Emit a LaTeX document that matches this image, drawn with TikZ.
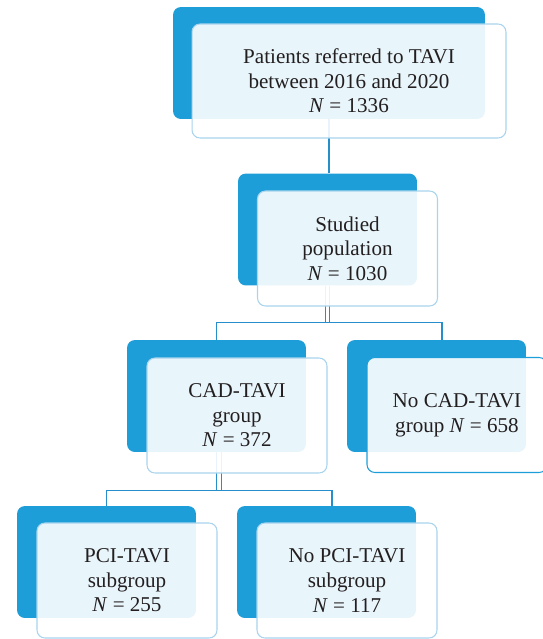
\documentclass[tikz,border=0pt]{standalone}
\usepackage{fontspec}
\setmainfont{Liberation Serif}
\usepackage{tikz}
\usetikzlibrary{calc}
\definecolor{tblue}{RGB}{30,158,216}
\definecolor{tedge}{RGB}{168,212,238}
\definecolor{tline}{RGB}{38,142,202}
\definecolor{ttext}{RGB}{35,31,32}
\tikzstyle{back}=[rectangle, rounded corners=4.5pt, fill=tblue, minimum width=3.58cm, minimum height=2.24cm]
\tikzstyle{front}=[rectangle, rounded corners=4.5pt, draw=tedge, line width=0.6pt, fill=white, fill opacity=0.9, text opacity=1, text=ttext, minimum width=3.6cm, minimum height=2.3cm, align=center, font=\fontsize{12}{14}\selectfont]
\tikzstyle{link}=[draw=tline, line width=0.6pt]
\tikzstyle{dlink}=[draw=tline, line width=0.6pt, double=white, double distance=1.8pt]

\begin{document}
\begin{tikzpicture}[x=0.02cm, y=-0.02cm]
		   \useasboundingbox (0,0) rectangle (543,639);
		   \begin{scope}
			   \node (b1) at (329, 63)[back, minimum width=6.24cm] {};
			   \node (b2) at (327.5, 229.5)[back] {};
			   \node (b3) at (216.5, 396)[back] {};
			   \node (b4) at (436.5, 396)[back] {};
			   \node (b5) at (106.5, 562)[back] {};
			   \node (b6) at (326.5, 562)[back] {};
		   \end{scope}
		   \begin{scope}
			   \coordinate (j1) at ($(b2.south)+(0, 37)$);
			   \coordinate (j2) at ($(b3.south)+(0, 38)$);

			   \path [link] (b1.south) edge (b1.south |- b2.north);

			   \draw [dlink] (b2.south) -- (j1);
			   \draw [link] (b3.north) |- (j1) -| ([xshift=0.11cm]b4.north);

			   \draw [dlink] ([xshift=0.05cm]b3.south) -- ([xshift=0.05cm]j2);
			   \draw [link] (b5.north) |- (j2) -| ([xshift=0.11cm]b6.north);
		   \end{scope}
		   \begin{scope}
			   \node (f1) at (349, 81)[front, minimum width=6.28cm, minimum height=2.28cm] {Patients referred to TAVI\\between 2016 and 2020\\\textit{N} = 1336};
			   \node (f2) at (347.5, 248.5)[front] {Studied\\population\\\textit{N} = 1030};
			   \node (f3) at (237, 415.5)[front] {CAD-TAVI\\group\\\textit{N} = 372};
			   \node (f4) at (457, 415)[front, draw=tblue] {No CAD-TAVI\\group \textit{N} = 658};
			   \node (f5) at (127, 580.5)[front] {PCI-TAVI\\subgroup\\\textit{N} = 255};
			   \node (f6) at (347, 580.5)[front] {No PCI-TAVI\\subgroup\\\textit{N} = 117};
		   \end{scope}
	   \end{tikzpicture}
\end{document}
